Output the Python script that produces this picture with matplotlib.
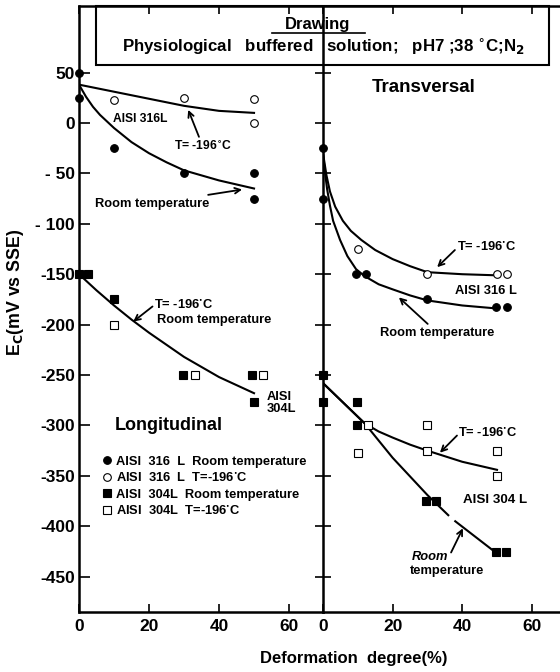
import numpy as np
import matplotlib
matplotlib.use("Agg")
import matplotlib.pyplot as plt
from matplotlib.patches import Rectangle
from matplotlib.lines import Line2D

plt.rcParams['font.family'] = ['Liberation Sans', 'DejaVu Sans']
plt.rcParams['font.weight'] = 'bold'
plt.rcParams['mathtext.default'] = 'bf'

# ---- measured points: longitudinal ----
lon_316_rt_x = [0, 0, 10, 30, 50, 50]
lon_316_rt_y = [50, 25, -25, -50, -50, -75]
lon_316_lt_x = [10, 30, 50, 50]
lon_316_lt_y = [23, 25, 24, 0]
lon_304_rt_x = [0, 2.6, 10, 29.6, 49.5, 50]
lon_304_rt_y = [-150, -150, -175, -250, -250, -277]
lon_304_lt_x = [10, 33, 52.5]
lon_304_lt_y = [-200, -250, -250]

# ---- measured points: transversal ----
tra_316_rt_x = [0, 0, 9.5, 12.4, 30, 49.7, 52.8]
tra_316_rt_y = [-25, -75, -150, -150, -175, -183, -183]
tra_316_lt_x = [10, 30, 50, 52.8]
tra_316_lt_y = [-125, -150, -150, -150]
tra_304_rt_x = [0, 0, 9.8, 9.8, 29.6, 32.5, 49.7, 52.6]
tra_304_rt_y = [-250, -277, -277, -300, -375, -375, -425, -425]
tra_304_lt_x = [12.9, 10, 30, 30, 50, 50]
tra_304_lt_y = [-300, -327, -300, -325, -325, -350]

# ---- fitted curves ----
c_lon_316_lt_x = [0, 10, 20, 30, 40, 50]
c_lon_316_lt_y = [38, 31, 24, 17, 12, 10]
c_lon_316_rt_x = [0, 2, 4, 6, 10, 15, 20, 25, 30, 40, 50]
c_lon_316_rt_y = [38, 26, 16, 8, -5, -19, -30, -39, -47, -57, -65]
c_lon_304_x = [0, 5, 10, 15, 20, 30, 40, 50]
c_lon_304_y = [-150, -166, -181, -195, -208, -232, -252, -268]

c_tra_316_lt_x = [0, 1, 2, 3.5, 5.7, 8, 11, 15, 20, 25, 30, 40, 49]
c_tra_316_lt_y = [-30, -52, -68, -83, -97, -107, -116, -126, -135, -142, -148, -150, -151]
c_tra_316_rt_x = [0, 0.6, 1.2, 2, 2.9, 4.9, 7, 9.5, 12, 16, 20, 25, 30, 40, 50]
c_tra_316_rt_y = [-30, -50, -66, -82, -97, -116, -132, -145, -152, -160, -165, -171, -176, -181, -184]
c_tra_304_lt_x = [0, 12, 16, 20, 25, 30, 40, 50]
c_tra_304_lt_y = [-258, -298, -306, -312, -319, -325, -336, -344]
c_tra_304_rt_x = [0, 12, 20, 30, 36, np.nan, 38, 50]
c_tra_304_rt_y = [-258, -298, -332, -369, -389, np.nan, -395, -427]

y_ticks = [50, 0, -50, -100, -150, -200, -250, -300, -350, -400, -450]
y_labels = ['50', '0', '- 50', '- 100', '-150', '-200', '-250', '-300', '-350', '-400', '-450']
x_ticks = [0, 20, 40, 60]

fig = plt.figure(figsize=(5.6, 6.72), dpi=100)
axL = fig.add_axes([79 / 560, 1 - 612 / 672, 244 / 560, 606 / 672])
axR = fig.add_axes([323 / 560, 1 - 612 / 672, 237 / 560, 606 / 672])

ms = 5.5
for ax in (axL, axR):
    ax.set_ylim(-485, 116)
    ax.set_yticks(y_ticks)
    ax.set_xticks(x_ticks)
    ax.set_xticklabels([str(t) for t in x_ticks], fontsize=12.5)
    ax.tick_params(axis='x', direction='in', length=6, width=1.2, top=True, pad=5)
    ax.spines['right'].set_visible(False)
    for s in ('left', 'top', 'bottom'):
        ax.spines[s].set_linewidth(1.8)

axL.set_xlim(0, 69.7)
axR.set_xlim(0, 68.1)
axL.set_yticklabels(y_labels, fontsize=12.5)
axL.tick_params(axis='y', direction='in', length=8, width=1.2, pad=3)
axR.set_yticklabels([])
axR.tick_params(axis='y', direction='inout', length=12, width=1.2)

def pts(ax, x, y, marker, filled, label=None):
    ax.plot(x, y, linestyle='none', marker=marker, markersize=ms,
            markerfacecolor='black' if filled else 'white',
            markeredgecolor='black', markeredgewidth=0.8, clip_on=False,
            zorder=4, label=label)

# curves
lw = 1.5
axL.plot(c_lon_316_lt_x, c_lon_316_lt_y, color='black', lw=lw)
axL.plot(c_lon_316_rt_x, c_lon_316_rt_y, color='black', lw=lw)
axL.plot(c_lon_304_x, c_lon_304_y, color='black', lw=lw)
axR.plot(c_tra_316_lt_x, c_tra_316_lt_y, color='black', lw=lw)
axR.plot(c_tra_316_rt_x, c_tra_316_rt_y, color='black', lw=lw)
axR.plot(c_tra_304_lt_x, c_tra_304_lt_y, color='black', lw=lw)
axR.plot(c_tra_304_rt_x, c_tra_304_rt_y, color='black', lw=lw)

# points
pts(axL, lon_316_rt_x, lon_316_rt_y, 'o', True, 'AISI  316  L  Room temperature')
pts(axL, lon_316_lt_x, lon_316_lt_y, 'o', False, 'AISI  316  L  T=-196$^{\\bullet}$C')
pts(axL, lon_304_rt_x, lon_304_rt_y, 's', True, 'AISI  304L  Room temperature')
pts(axL, lon_304_lt_x, lon_304_lt_y, 's', False, 'AISI  304L  T=-196$^{\\bullet}$C')
pts(axR, tra_316_rt_x, tra_316_rt_y, 'o', True)
pts(axR, tra_316_lt_x, tra_316_lt_y, 'o', False)
pts(axR, tra_304_rt_x, tra_304_rt_y, 's', True)
pts(axR, tra_304_lt_x, tra_304_lt_y, 's', False)

axL.legend(loc='upper left', bbox_to_anchor=(0.1, 0.258), frameon=False,
           fontsize=9.3, handlelength=0.6, handletextpad=0.35, labelspacing=0.3,
           borderpad=0, borderaxespad=0)

arw = dict(arrowstyle='->', lw=1.3, color='black', mutation_scale=10, shrinkA=0, shrinkB=0)
fs = 9.3

# longitudinal annotations
axL.text(9.7, 4, 'AISI 316L', fontsize=8.7, va='center')
axL.annotate('T= -196$^{\\circ}$C', xy=(31.2, 13), xytext=(27, -23),
             fontsize=8.7, va='center', ha='left', arrowprops=arw)
axL.annotate('Room temperature', xy=(46.6, -66), xytext=(4.6, -80),
             fontsize=fs, va='center', ha='left', arrowprops=arw)
axL.annotate('', xy=(15.5, -197), xytext=(21, -182), arrowprops=arw)
axL.text(21.5, -181, 'T= -196$^{\\bullet}$C', fontsize=fs, va='center')
axL.text(22.2, -195, 'Room temperature', fontsize=fs, va='center')
axL.text(53.6, -278, 'AISI\n304L', fontsize=fs, va='center', linespacing=1.0)
axL.text(10.3, -300, 'Longitudinal', fontsize=13, va='center')

# transversal annotations
axR.text(14.1, 35, 'Transversal', fontsize=13.5, va='center')
axR.annotate('', xy=(32.8, -143), xytext=(37.9, -126), arrowprops=arw)
axR.text(38.5, -123, 'T= -196$^{\\bullet}$C', fontsize=fs, va='center')
axR.text(37.9, -167, 'AISI 316 L', fontsize=fs, va='center')
axR.annotate('Room temperature', xy=(21.8, -173), xytext=(16.4, -208),
             fontsize=fs, va='center', ha='left', arrowprops=arw)
axR.annotate('', xy=(33.6, -327), xytext=(38.5, -310), arrowprops=arw)
axR.text(38.8, -308, 'T= -196$^{\\bullet}$C', fontsize=fs, va='center')
axR.text(40.2, -374, 'AISI 304 L', fontsize=fs + 0.3, va='center')
axR.annotate('', xy=(40.2, -402), xytext=(36.8, -426), arrowprops=arw)
axR.text(25.6, -430, 'Room', fontsize=fs, va='center', style='italic')
axR.text(25.0, -444, 'temperature', fontsize=fs, va='center')

# header box
fig.add_artist(Rectangle((96 / 560, 1 - 65 / 672), 453 / 560, 59 / 672,
                         transform=fig.transFigure, fill=False, lw=1.5, color='black'))
fig.text(318 / 560, 1 - 24 / 672, 'Drawing', ha='center', va='center', fontsize=12)
fig.add_artist(Line2D([272 / 560, 365 / 560], [1 - 33 / 672, 1 - 33 / 672],
                      transform=fig.transFigure, lw=1.2, color='black'))
fig.text(323 / 560, 1 - 47 / 672,
         'Physiological   buffered   solution;   pH7 ;38 $^{\\circ}$C;N$_2$',
         ha='center', va='center', fontsize=12.2)

fig.text(16 / 560, 1 - 292 / 672, 'E$_C$(mV vs SSE)', rotation=90, ha='center',
         va='center', fontsize=12.8)
fig.text(354 / 560, 1 - 659 / 672, 'Deformation  degree(%)', ha='center', va='center',
         fontsize=12)

fig.savefig('out.png', dpi=100)
